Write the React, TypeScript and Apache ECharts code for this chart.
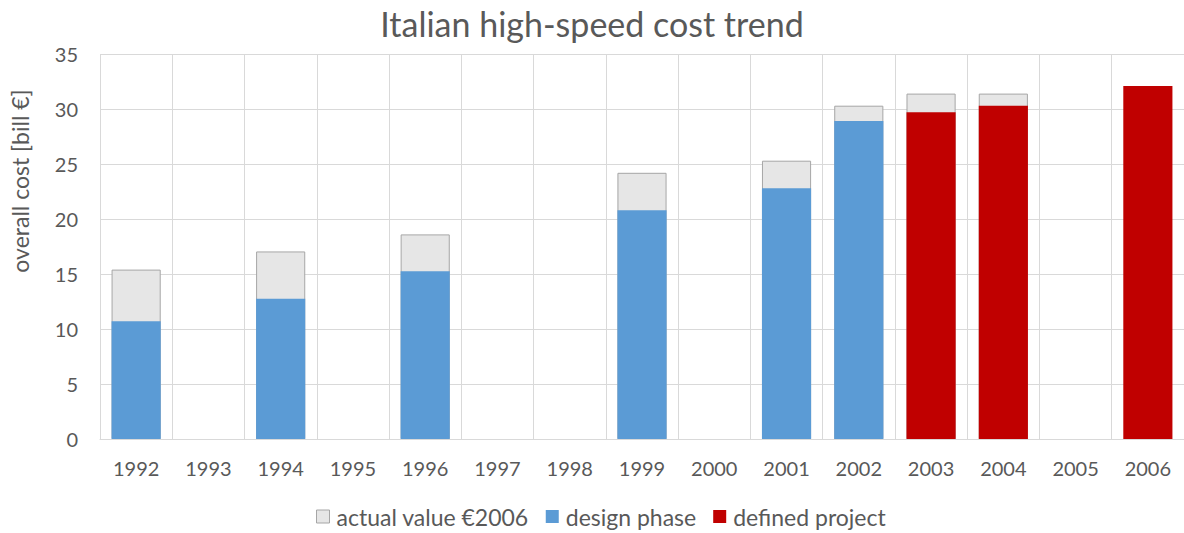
import React, { useEffect, useRef } from "react";
import * as echarts from "echarts";

const years = ["1992","1993","1994","1995","1996","1997","1998","1999","2000","2001","2002","2003","2004","2005","2006"];
const actualValue2006 = [15.4, null, 17.05, null, 18.6, null, null, 24.2, null, 25.3, 30.3, 31.4, 31.4, null, null];
const designPhase = [10.7, null, 12.75, null, 15.25, null, null, 20.8, null, 22.8, 28.9, null, null, null, null];
const definedProject = [null, null, null, null, null, null, null, null, null, null, null, 29.7, 30.3, null, 32.1];
const yTicks = { min: 0, max: 35, interval: 5 };

const FONT = "Lato, 'Open Sans', sans-serif";
const TXT = "#595959";

export default function App() {
  const ref = useRef<HTMLDivElement>(null);
  useEffect(() => {
    if (!ref.current) return;
    const chart = echarts.init(ref.current, null, { renderer: "svg" });
    chart.setOption({
      animation: false,
      backgroundColor: "#ffffff",
      textStyle: { fontFamily: FONT },
      title: {
        text: "Italian high-speed cost trend",
        left: "center",
        top: 1,
        textStyle: { fontFamily: FONT, fontSize: 34, fontWeight: "normal", color: TXT },
      },
      legend: {
        bottom: 0,
        left: 311,
        icon: "rect",
        itemWidth: 13,
        itemHeight: 13,
        itemGap: 17,
        textStyle: { fontFamily: FONT, fontSize: 23, color: TXT, padding: [0, 0, 0, 2] },
        data: [
          { name: "actual value €2006", itemStyle: { color: "#e6e6e6", borderColor: "#a6a6a6", borderWidth: 1 } },
          { name: "design phase" },
          { name: "defined project" },
        ],
      },
      graphic: [
        {
          type: "text",
          x: 20,
          y: 181,
          rotation: Math.PI / 2,
          style: {
            text: "overall cost [bill €]",
            fontFamily: FONT,
            fontSize: 23,
            fill: TXT,
            align: "center",
            verticalAlign: "middle",
          },
        },
      ],
      grid: { left: 100, right: 0, top: 54, bottom: 94, containLabel: false },
      xAxis: {
        type: "category",
        data: years,
        axisLine: { show: true, lineStyle: { color: "#d9d9d9", width: 1 } },
        axisTick: { show: false },
        axisLabel: { color: TXT, fontSize: 20, fontFamily: FONT, margin: 19, interval: 0 },
        splitLine: { show: true, interval: 0, lineStyle: { color: "#d9d9d9", width: 1 } },
      },
      yAxis: {
        type: "value",
        min: yTicks.min,
        max: yTicks.max,
        interval: yTicks.interval,
        axisLine: { show: false },
        axisTick: { show: false },
        axisLabel: { color: TXT, fontSize: 20, fontFamily: FONT, margin: 22 },
        splitLine: { show: true, lineStyle: { color: "#d9d9d9", width: 1 } },
      },
      series: [
        {
          name: "actual value €2006",
          type: "bar",
          data: actualValue2006,
          barWidth: "68%",
          barGap: "-100%",
          itemStyle: { color: "#e6e6e6", borderColor: "#a6a6a6", borderWidth: 1 },
        },
        {
          name: "design phase",
          type: "bar",
          data: designPhase,
          barWidth: "68%",
          barGap: "-100%",
          itemStyle: { color: "#5b9bd5" },
        },
        {
          name: "defined project",
          type: "bar",
          data: definedProject,
          barWidth: "68%",
          barGap: "-100%",
          itemStyle: { color: "#c00000" },
        },
      ],
    });
    return () => chart.dispose();
  }, []);
  return <div ref={ref} style={{ position: "absolute", left: 0, top: 0, width: 1184, height: 533 }} />;
}
